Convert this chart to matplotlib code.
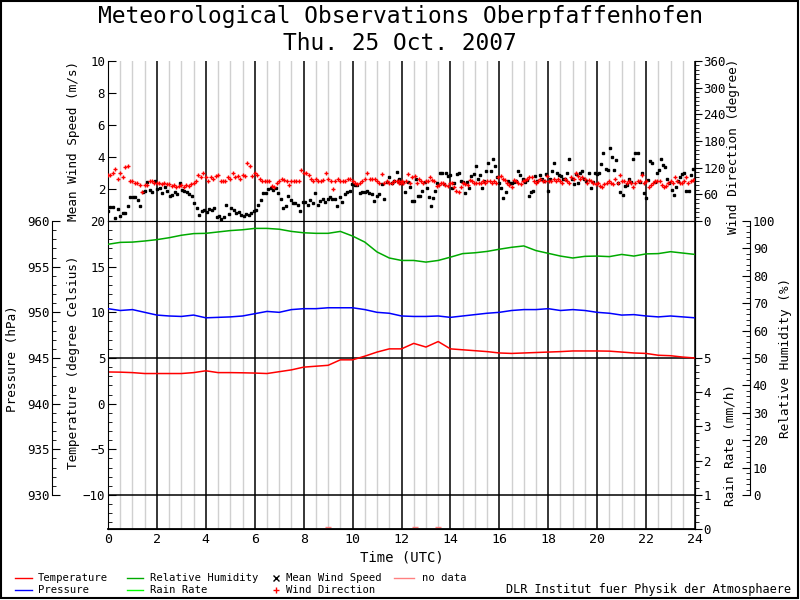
import numpy as np
import matplotlib.pyplot as plt
from matplotlib.lines import Line2D
from matplotlib.patches import Rectangle
from matplotlib.ticker import MultipleLocator

plt.rcParams['font.family'] = ['DejaVu Sans Mono']
plt.rcParams['font.size'] = 9

# half-hourly values, 0 .. 24 UTC
hours = np.linspace(0, 24, 49)
temperature = [3.47, 3.45, 3.4, 3.3, 3.3, 3.3, 3.3, 3.4, 3.6, 3.4, 3.4, 3.38, 3.35,
               3.3, 3.5, 3.7, 4.0, 4.1, 4.2, 4.8, 4.8, 5.2, 5.65, 6.0, 6.0, 6.6, 6.2,
               6.8, 6.0, 5.9, 5.8, 5.7, 5.55, 5.5, 5.55, 5.6, 5.65, 5.7, 5.77, 5.77,
               5.77, 5.75, 5.65, 5.55, 5.5, 5.3, 5.25, 5.1, 5.0]
pressure = [950.4, 950.2, 950.3, 950.0, 949.7, 949.6, 949.55, 949.7, 949.4, 949.45,
            949.5, 949.6, 949.85, 950.1, 950.0, 950.3, 950.4, 950.4, 950.5, 950.5,
            950.5, 950.3, 950.0, 949.9, 949.6, 949.55, 949.55, 949.6, 949.45, 949.6,
            949.75, 949.9, 950.0, 950.2, 950.3, 950.3, 950.4, 950.2, 950.3, 950.2,
            950.0, 949.9, 949.7, 949.75, 949.6, 949.5, 949.6, 949.5, 949.4]
humidity = [91.5, 92.2, 92.3, 92.7, 93.2, 93.9, 94.8, 95.4, 95.5, 96.0, 96.5, 96.8,
            97.3, 97.3, 97.0, 96.2, 95.7, 95.5, 95.5, 96.2, 94.5, 92.3, 88.7, 86.5,
            85.6, 85.6, 85.0, 85.6, 86.8, 88.1, 88.4, 88.9, 89.7, 90.4, 90.9, 89.2,
            88.2, 87.2, 86.5, 87.1, 87.2, 87.0, 87.8, 87.2, 88.0, 88.1, 88.8, 88.3, 87.8]
rain_rate = [0.0] * 49
no_data_hours = [9.0, 12.55, 13.5]

# mean wind speed (m/s), morning and afternoon readings
ws_am = [0.63, 0.85, 0.9, 0.17, 0.73, 0.3, 0.48, 0.5, 0.94, 1.48, 1.5, 1.48, 1.3, 0.94,
         1.83, 1.9, 2.46, 1.94, 1.83, 2.52, 1.98, 2.04, 1.73, 2.15, 1.9, 1.56, 1.6, 1.83,
         1.69, 2.35, 1.94, 1.9, 1.83, 1.69, 1.56, 1.15, 0.79, 0.38, 0.65, 0.69, 0.58,
         0.73, 0.69, 0.79, 0.27, 0.31, 0.15, 0.27, 1.0, 0.46, 0.79, 0.69, 0.48, 0.58,
         0.38, 0.31, 0.44, 0.38, 0.48, 0.65, 0.69, 1.0, 1.31, 1.73, 1.77, 1.98, 2.04,
         1.94, 2.04, 1.77, 1.35, 0.79, 0.94, 1.56, 1.31, 1.15, 1.15, 1.0, 0.65, 1.19,
         1.19, 1.0, 1.31, 1.1, 1.77, 1.0, 1.27, 1.4, 1.19, 1.35, 1.48, 1.4, 1.35, 0.94,
         1.5, 1.19, 1.69, 1.83, 1.9, 2.31, 2.25, 2.25, 1.77, 1.83, 1.83, 1.9, 1.77, 1.69,
         1.27, 1.56, 1.69, 2.31, 1.4, 2.46, 2.73, 2.4, 2.52, 3.08, 2.46, 2.4]
ws_pm = [2.6, 2.35, 2.46, 1.83, 2.46, 2.15, 1.25, 1.25, 2.65, 1.56, 1.56, 1.9, 2.46,
         2.04, 1.48, 0.94, 1.44, 1.9, 2.35, 3.02, 2.98, 2.31, 3.02, 2.81, 2.85, 2.04,
         2.4, 2.94, 2.98, 2.52, 2.46, 1.73, 2.46, 2.04, 2.81, 2.94, 3.44, 2.6, 2.85,
         2.04, 2.52, 3.1, 3.65, 3.1, 3.85, 3.44, 2.77, 2.35, 2.04, 1.44, 1.83, 2.52, 2.4,
         2.35, 2.46, 2.52, 3.1, 2.85, 2.6, 2.46, 2.56, 1.56, 1.83, 1.9, 2.81, 2.52, 2.85,
         2.6, 2.52, 2.94, 1.9, 2.6, 3.1, 3.6, 2.98, 2.85, 2.81, 2.6, 2.6, 3.02, 3.85,
         2.6, 2.31, 2.94, 2.35, 2.98, 3.1, 2.6, 2.52, 2.98, 2.04, 2.46, 3.02, 2.94, 3.02,
         3.56, 4.23, 3.23, 3.17, 4.56, 4.0, 3.2, 3.81, 2.4, 1.83, 1.6, 2.19, 2.25, 2.6,
         2.46, 3.85, 4.27, 4.23, 2.46, 2.98, 1.77, 1.44, 2.56, 3.73, 3.65, 2.46, 2.98,
         3.2, 3.85, 3.5, 3.4, 2.6, 2.35, 1.94, 1.6, 2.1, 2.52, 2.73, 2.94, 3.02, 1.9,
         1.9, 2.85, 3.23, 2.6]

# wind direction (degree)
wd_am = [103, 103, 107, 116, 95, 108, 100, 122, 124, 89, 89, 86, 85, 81, 66, 81, 81,
         89, 89, 86, 86, 85, 83, 86, 83, 83, 79, 81, 77, 79, 81, 77, 81, 79, 83, 85, 91,
         103, 98, 107, 98, 89, 100, 94, 101, 103, 91, 91, 91, 100, 95, 108, 98, 101, 94,
         103, 101, 130, 124, 101, 107, 103, 95, 91, 91, 89, 89, 79, 77, 86, 89, 95, 92,
         91, 81, 89, 89, 91, 89, 114, 108, 108, 103, 95, 91, 94, 89, 89, 92, 107, 94, 89,
         73, 89, 95, 91, 91, 89, 95, 94, 89, 85, 83, 86, 89, 95, 108, 94, 94, 94, 91, 86,
         106, 85, 89, 85, 86, 91, 89, 85, 91]
wd_pm = [89, 86, 85, 91, 106, 85, 98, 101, 85, 94, 91, 86, 91, 89, 98, 92, 91, 79, 81,
         85, 86, 81, 79, 85, 86, 77, 68, 66, 77, 86, 83, 81, 92, 89, 85, 86, 85, 86, 89,
         85, 91, 89, 86, 89, 85, 98, 101, 95, 92, 86, 81, 77, 92, 89, 86, 83, 89, 92, 94,
         100, 98, 89, 86, 89, 94, 91, 89, 101, 89, 91, 95, 89, 94, 91, 86, 94, 89, 85, 98,
         94, 107, 101, 94, 98, 94, 86, 92, 89, 85, 83, 85, 79, 77, 83, 86, 89, 86, 83, 94,
         85, 103, 91, 89, 85, 89, 86, 77, 85, 89, 91, 103, 86, 89, 77, 81, 85, 89, 89, 91,
         81, 77, 79, 85, 89, 86, 98, 89, 85, 86, 89, 98, 86, 89, 92, 94]

t_ws = np.concatenate([np.linspace(0.0, 12.0, len(ws_am)), np.linspace(11.9, 24.0, len(ws_pm))])
t_wd = np.concatenate([np.linspace(0.0, 12.0, len(wd_am)), np.linspace(11.9, 24.0, len(wd_pm))])
wind_speed = np.array(ws_am + ws_pm)
wind_dir = np.array(wd_am + wd_pm)

fig = plt.figure(figsize=(8, 6), dpi=100)


def box(x0, y0, x1, y1):
    return [x0 / 800, 1 - y1 / 600, (x1 - x0) / 800, (y1 - y0) / 600]


ax_w = fig.add_axes(box(108, 61, 695, 221))
ax_t = fig.add_axes(box(108, 221, 695, 529))

for ax in (ax_w, ax_t):
    ax.set_xlim(0, 24)
    ax.set_xticks(np.arange(0, 25, 2))
    ax.xaxis.set_minor_locator(MultipleLocator(0.5))
    ax.grid(which='minor', axis='x', color='#d0d0d0', lw=1)
    ax.grid(which='major', axis='x', color='black', lw=1.1)
    ax.tick_params(axis='x', which='both', length=0)
    ax.tick_params(axis='y', which='both', pad=2)
ax_w.tick_params(axis='x', labelbottom=False)
ax_w.spines['top'].set_visible(False)
ax_t.tick_params(axis='x', labelsize=9.5, pad=3)
ax_t.set_xlabel('Time (UTC)', fontsize=10, labelpad=3)

# top panel: wind
ax_w.set_ylim(0, 10)
ax_w.set_yticks(np.arange(0, 11, 2))
ax_w.set_yticklabels(['', '2', '4', '6', '8', '10'])
ax_w.tick_params(axis='y', direction='in', length=6)
ax_w.plot(t_ws, wind_speed, ls='none', marker='s', ms=2.1, color='black')

ax_d = ax_w.twinx()
ax_d.set_ylim(0, 360)
ax_d.set_yticks(np.arange(0, 361, 60))
ax_d.yaxis.set_minor_locator(MultipleLocator(10))
ax_d.tick_params(axis='y', which='major', direction='out', length=5, pad=1)
ax_d.tick_params(axis='y', which='minor', direction='out', length=3, pad=1)
for s in ('top', 'left', 'bottom'):
    ax_d.spines[s].set_visible(False)
ax_d.plot(t_wd, wind_dir, ls='none', marker='+', ms=3.4, mew=1.0, color='red')

# lower panel: temperature, pressure, humidity, rain
ax_t.set_ylim(-10 - 34 / 9.133, 20)
ax_t.set_yticks(np.arange(-10, 21, 5))
ax_t.yaxis.set_minor_locator(MultipleLocator(1))
ax_t.tick_params(axis='y', which='major', direction='in', length=6)
ax_t.tick_params(axis='y', which='minor', direction='in', length=3)
ax_t.axhline(5, color='black', lw=1.1)
ax_t.axhline(-10, color='black', lw=1.1)
ax_t.plot(hours, temperature, color='red', lw=1.1)

ax_p = ax_t.twinx()
ax_p.set_ylim(930 - 34 / 9.133, 960)
ax_p.yaxis.set_ticks_position('left')
ax_p.spines['left'].set_position(('outward', 40.3))
ax_p.spines['left'].set_bounds(930, 960)
for s in ('top', 'right', 'bottom'):
    ax_p.spines[s].set_visible(False)
ax_p.set_yticks(np.arange(930, 961, 5))
ax_p.set_yticks(np.arange(930, 961, 1), minor=True)
ax_p.tick_params(axis='y', which='major', direction='in', length=6, pad=2)
ax_p.tick_params(axis='y', which='minor', direction='in', length=3)
ax_p.plot(hours, pressure, color='blue', lw=1.1)

ax_h = ax_t.twinx()
ax_h.set_ylim(-34 / 2.74, 100)
ax_h.spines['right'].set_position(('outward', 39.6))
ax_h.spines['right'].set_bounds(0, 100)
for s in ('top', 'left', 'bottom'):
    ax_h.spines[s].set_visible(False)
ax_h.set_yticks(np.arange(0, 101, 10))
ax_h.set_yticks(np.arange(0, 101, 2), minor=True)
ax_h.tick_params(axis='y', which='major', direction='in', length=6, pad=2)
ax_h.tick_params(axis='y', which='minor', direction='in', length=3)
ax_h.plot(hours, humidity, color='#00aa00', lw=1.1)

ax_r = ax_t.twinx()
ax_r.set_ylim(0, 5 + 137 / 34.25)
for s in ('top', 'left'):
    ax_r.spines[s].set_visible(False)
ax_r.spines['bottom'].set_linewidth(1.3)
ax_r.set_yticks(np.arange(0, 6, 1))
ax_r.set_yticks(np.arange(0, 5.01, 0.2), minor=True)
ax_r.tick_params(axis='y', which='major', direction='out', length=5, pad=1)
ax_r.tick_params(axis='y', which='minor', direction='out', length=3)
ax_r.plot(hours, rain_rate, color='#00ff00', lw=0.6, zorder=1)
ax_r.plot(no_data_hours, [0.07] * len(no_data_hours), ls='none', marker='_',
          ms=4, mew=1, color='#ff8080')

# axis titles
lab = dict(rotation=90, ha='center', va='center', fontsize=9.2)
fig.text(73 / 800, 1 - 141 / 600, 'Mean Wind Speed (m/s)', **lab)
fig.text(73 / 800, 1 - 362 / 600, 'Temperature (degree Celsius)', **lab)
fig.text(13 / 800, 1 - 359 / 600, 'Pressure (hPa)', **lab)
fig.text(734 / 800, 1 - 146 / 600, 'Wind Direction (degree)', **lab)
fig.text(730 / 800, 1 - 445 / 600, 'Rain Rate (mm/h)', **lab)
fig.text(786 / 800, 1 - 358 / 600, 'Relative Humidity (%)', **lab)

fig.text(0.5, 1 - 17 / 600, 'Meteorological Observations Oberpfaffenhofen', ha='center', va='center', fontsize=16.5)
fig.text(0.5, 1 - 44 / 600, 'Thu. 25 Oct. 2007', ha='center', va='center', fontsize=16.5)

# legend
def leg_line(x0, x1, y, color):
    fig.add_artist(Line2D([x0 / 800, x1 / 800], [1 - y / 600] * 2, color=color, lw=1,
                          transform=fig.transFigure))


def leg_mark(x, y, marker, color):
    fig.add_artist(Line2D([x / 800], [1 - y / 600], ls='none', marker=marker, ms=4,
                          mew=1, color=color, transform=fig.transFigure))


def leg_text(x, y, s, size=7.6, ha='left'):
    fig.text(x / 800, 1 - y / 600, s, ha=ha, va='center', fontsize=size)


leg_line(15, 32, 578, 'red'); leg_text(38, 578, 'Temperature')
leg_line(15, 32, 590, 'blue'); leg_text(38, 590, 'Pressure')
leg_line(127, 143, 578, '#00aa00'); leg_text(150, 578, 'Relative Humidity')
leg_line(127, 143, 590, '#00ff00'); leg_text(150, 590, 'Rain Rate')
leg_mark(276, 578, 'x', 'black'); leg_text(286, 578, 'Mean Wind Speed')
leg_mark(276, 590, '+', 'red'); leg_text(286, 590, 'Wind Direction')
leg_line(394, 414, 578, '#ff8080'); leg_text(422, 578, 'no data')
leg_text(791, 590, 'DLR Institut fuer Physik der Atmosphaere', size=8.5, ha='right')

fig.add_artist(Rectangle((0.001, 0.003), 0.996, 0.996, fill=False, edgecolor='black',
                         lw=1.5, transform=fig.transFigure))

fig.savefig('out.png', dpi=100)
